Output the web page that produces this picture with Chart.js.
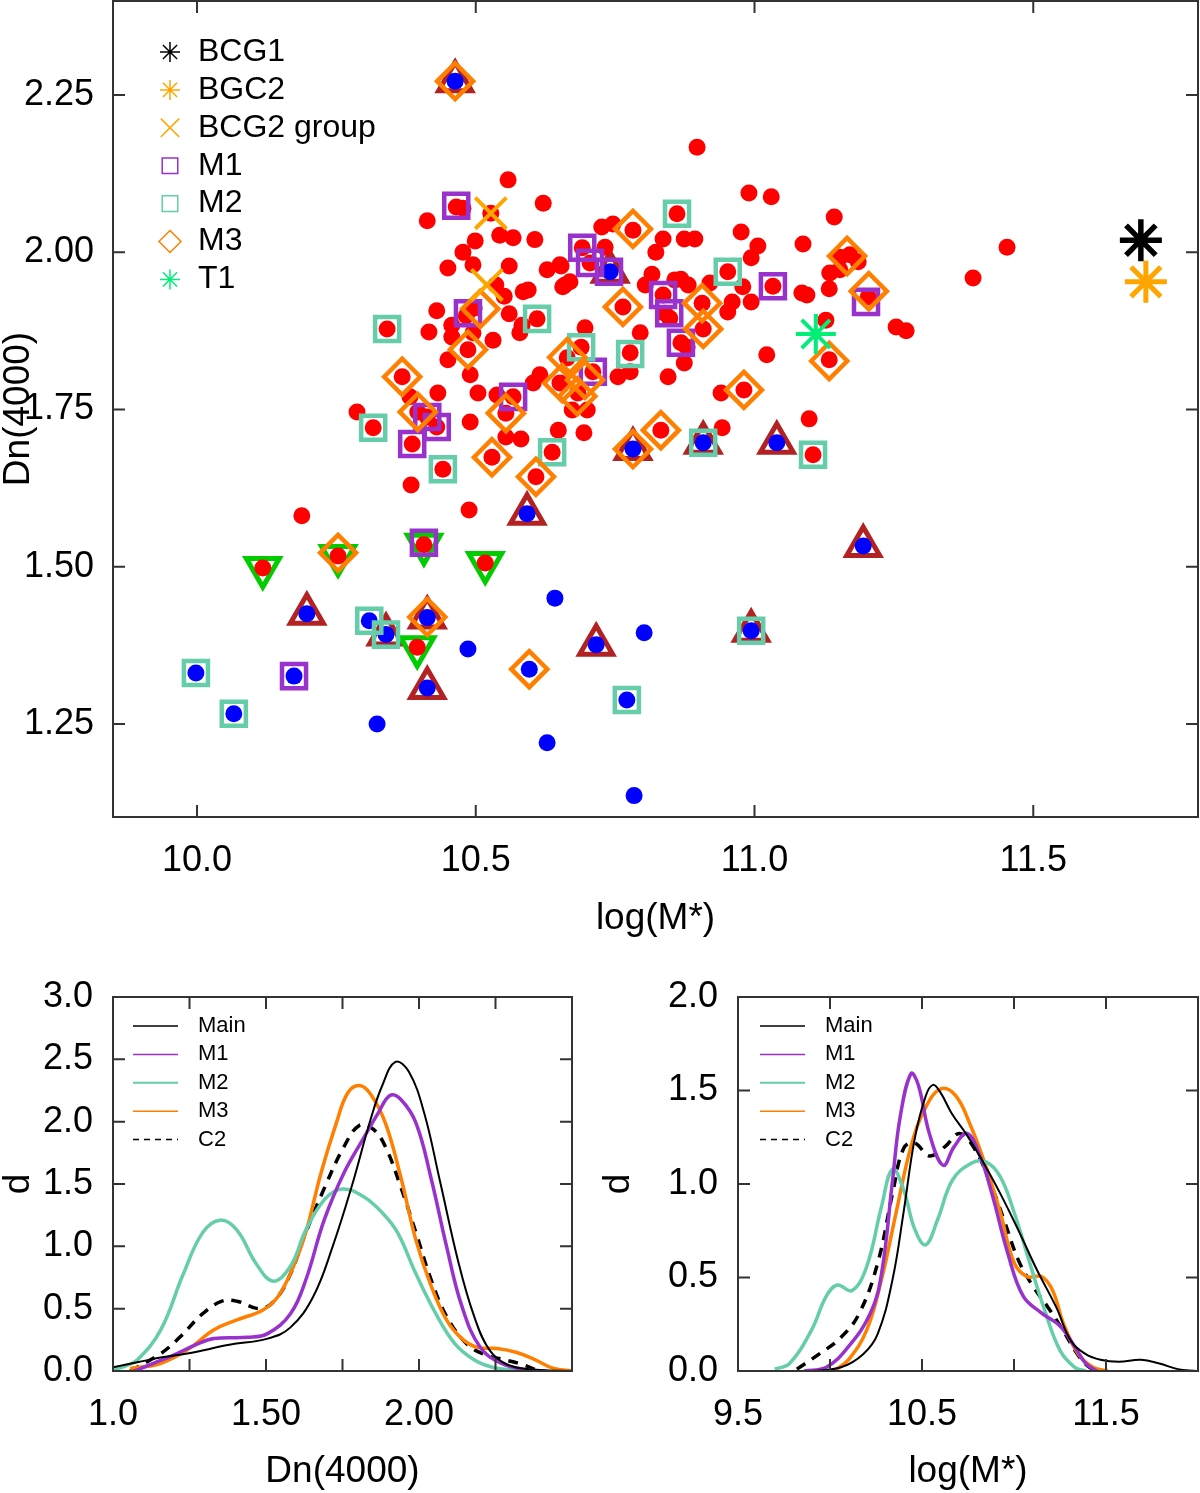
<!DOCTYPE html>
<html>
<head>
<meta charset="utf-8">
<script src="https://cdn.jsdelivr.net/npm/chart.js@4.4.0/dist/chart.umd.min.js"></script>
<style>
  body { margin: 0; background: #fff; width: 1200px; height: 1493px; position: relative; overflow: hidden; }
  .panel { position: absolute; }
</style>
</head>
<body>
<div class="panel" style="left:0;top:0;width:1200px;height:940px"><canvas id="scatter"></canvas></div>
<div class="panel" style="left:0;top:960px;width:600px;height:533px"><canvas id="dnDens"></canvas></div>
<div class="panel" style="left:600px;top:960px;width:600px;height:533px"><canvas id="massDens"></canvas></div>
<script>
/* --- Data: top scatter, [log(M*), Dn(4000)] ------------------------------ */
const redDots = [
  [10.465,2.072],[10.477,2.070],[10.413,2.050],[10.527,2.062],[10.558,2.115],[10.543,2.027],[10.499,2.018],
  [10.477,2.000],[10.450,1.975],[10.495,1.980],[10.536,1.948],[10.567,2.023],[10.621,2.078],[10.606,2.020],
  [10.560,1.978],[10.551,1.930],[10.585,1.937],[10.594,1.940],[10.628,1.972],[10.653,1.978],[10.660,1.948],
  [10.669,1.953],[10.726,2.040],[10.746,2.045],[10.691,2.007],[10.705,1.983],[10.732,2.008],[10.782,2.035],
  [10.764,1.913],[10.795,1.872],[10.430,1.907],[10.416,1.873],[10.457,1.884],[10.483,1.899],[10.497,1.911],
  [10.560,1.902],[10.610,1.894],[10.583,1.884],[10.579,1.872],[10.341,1.878],[10.457,1.865],[10.495,1.872],
  [10.531,1.860],[10.486,1.845],[10.450,1.829],[10.777,1.840],[10.696,1.880],[10.897,2.167],[10.990,2.094],
  [11.030,2.088],[11.143,2.056],[10.861,2.061],[10.836,2.021],[10.874,2.021],[10.893,2.021],[10.823,2.000],
  [10.976,2.032],[11.006,2.010],[10.994,1.991],[11.087,2.013],[11.153,1.992],[11.171,1.996],[11.186,1.985],
  [11.135,1.967],[11.153,1.972],[11.134,1.942],[10.651,1.980],[10.656,1.945],[10.816,1.965],[10.804,1.948],
  [10.857,1.956],[10.868,1.957],[10.881,1.948],[10.952,1.969],[10.979,1.945],[10.994,1.921],[10.920,1.951],
  [11.033,1.946],[11.085,1.935],[11.094,1.932],[10.836,1.932],[10.839,1.903],[10.848,1.895],[10.906,1.919],
  [10.960,1.921],[10.952,1.905],[10.908,1.878],[10.868,1.856],[10.879,1.849],[11.022,1.837],[11.128,1.892],
  [11.134,1.829],[11.204,1.929],[11.254,1.881],[11.272,1.875],[11.392,1.959],[11.453,2.008],[10.490,1.805],
  [10.603,1.792],[10.615,1.805],[10.651,1.792],[10.683,1.776],[10.673,1.749],[10.700,1.749],[10.755,1.802],
  [10.777,1.810],[10.368,1.802],[10.432,1.776],[10.382,1.770],[10.504,1.776],[10.538,1.773],[10.567,1.770],
  [10.554,1.744],[10.396,1.746],[10.413,1.738],[10.430,1.722],[10.287,1.746],[10.316,1.721],[10.386,1.695],
  [10.490,1.730],[10.554,1.706],[10.581,1.703],[10.529,1.674],[10.637,1.682],[10.648,1.717],[10.694,1.713],
  [10.441,1.655],[10.608,1.643],[10.384,1.630],[10.488,1.590],[10.188,1.581],[10.407,1.535],[10.253,1.517],
  [10.517,1.506],[10.118,1.498],[10.395,1.372],[10.981,1.781],[10.940,1.776],[10.845,1.802],[10.874,1.824],
  [10.832,1.717],[10.942,1.721],[11.098,1.735],[11.105,1.678],[10.664,1.832],[10.710,1.810],[10.689,1.849]
];
const blueDots = [
  [10.463,2.272],[10.741,1.969],[10.782,1.687],[10.908,1.697],[11.040,1.697],[10.592,1.584],[11.195,1.533],
  [10.197,1.425],[10.309,1.414],[10.339,1.392],[10.413,1.419],[10.486,1.369],[9.998,1.331],[10.174,1.326],
  [10.413,1.307],[10.596,1.337],[10.066,1.266],[10.323,1.250],[10.642,1.450],[10.628,1.220],[10.716,1.376],
  [10.802,1.395],[10.994,1.398],[10.771,1.288],[10.784,1.136]
];
const upTriangles = [
  [10.463,2.272],[10.741,1.969],[10.782,1.687],[10.908,1.697],[11.040,1.697],[10.592,1.584],[11.195,1.533],
  [10.197,1.425],[10.339,1.392],[10.413,1.419],[10.413,1.307],[10.716,1.376],[10.994,1.398]
];
const downTriangles = [[10.118,1.498],[10.253,1.517],[10.407,1.535],[10.517,1.506],[10.395,1.372]];
const m1Members = [
  [10.465,2.074],[10.486,1.903],[10.691,2.007],[10.705,1.983],[10.739,1.969],[10.567,1.770],[10.413,1.738],
  [10.430,1.722],[10.386,1.695],[10.407,1.538],[10.174,1.326],[10.710,1.810],[10.836,1.932],[10.847,1.903],
  [10.868,1.856],[11.033,1.946],[11.200,1.921]
];
const m2Members = [
  [10.341,1.878],[10.610,1.894],[10.689,1.849],[10.777,1.838],[10.861,2.061],[10.952,1.969],[10.316,1.721],
  [10.637,1.682],[10.441,1.655],[10.908,1.697],[11.105,1.678],[10.309,1.414],[10.339,1.392],[9.998,1.331],
  [10.066,1.266],[10.994,1.398],[10.771,1.288]
];
const m3Members = [
  [10.463,2.272],[10.782,2.037],[10.764,1.913],[10.508,1.910],[10.486,1.845],[10.664,1.833],[10.655,1.792],
  [10.696,1.797],[10.682,1.771],[10.368,1.802],[10.554,1.744],[10.396,1.746],[10.529,1.674],[10.608,1.643],
  [10.782,1.687],[10.832,1.717],[10.981,1.781],[10.906,1.919],[10.908,1.878],[11.134,1.827],[11.166,1.994],
  [11.205,1.938],[10.253,1.522],[10.413,1.420],[10.596,1.337]
];
const bcg2Group = [[10.527,2.062],[10.520,1.948]];
const bcg1 = [[11.693,2.019]];
const bgc2 = [[11.702,1.953]];
const t1 = [[11.110,1.870]];

const scatterXTicks = [10.0, 10.5, 11.0, 11.5];
const scatterYTicks = [1.25, 1.50, 1.75, 2.00, 2.25];

/* --- Data: density of Dn(4000), [Dn(4000), d] ---------------------------- */
const dnMain = [[1.0,0.03],[1.08,0.07],[1.16,0.11],[1.243,0.14],[1.38,0.21],[1.505,0.26],[1.58,0.35],[1.655,0.6],
  [1.718,1.0],[1.78,1.48],[1.842,2.02],[1.88,2.29],[1.923,2.48],[1.967,2.40],[2.017,2.07],[2.067,1.54],[2.13,0.86],
  [2.18,0.44],[2.23,0.17],[2.29,0.05],[2.38,0.01],[2.5,0]];
const dnM1 = [[1.07,0],[1.13,0.06],[1.2,0.13],[1.27,0.21],[1.33,0.26],[1.44,0.27],[1.505,0.30],[1.58,0.46],[1.63,0.73],
  [1.69,1.21],[1.755,1.59],[1.817,1.86],[1.867,2.07],[1.905,2.21],[1.94,2.18],[1.99,1.99],[2.04,1.54],[2.09,1.0],
  [2.14,0.52],[2.2,0.19],[2.27,0.06],[2.35,0.01],[2.42,0]];
const dnM2 = [[1.0,0.01],[1.04,0.04],[1.08,0.09],[1.156,0.33],[1.23,0.78],[1.293,1.11],[1.35,1.21],[1.405,1.13],
  [1.468,0.86],[1.524,0.72],[1.58,0.84],[1.63,1.13],[1.693,1.38],[1.749,1.46],[1.818,1.40],[1.88,1.27],[1.93,1.11],
  [1.99,0.78],[2.055,0.46],[2.117,0.22],[2.18,0.09],[2.24,0.03],[2.32,0.005],[2.36,0]];
const dnM3 = [[1.056,0.02],[1.155,0.06],[1.243,0.17],[1.33,0.33],[1.405,0.41],[1.49,0.49],[1.54,0.6],[1.59,0.84],
  [1.63,1.11],[1.68,1.59],[1.73,1.99],[1.767,2.23],[1.805,2.29],[1.842,2.22],[1.89,1.99],[1.94,1.56],[1.99,1.05],
  [2.04,0.68],[2.09,0.41],[2.14,0.26],[2.19,0.19],[2.255,0.18],[2.317,0.15],[2.38,0.09],[2.44,0.02],[2.5,0]];
const dnC2 = [[1.056,0],[1.156,0.14],[1.218,0.27],[1.293,0.46],[1.356,0.56],[1.405,0.56],[1.48,0.5],[1.53,0.57],
  [1.58,0.78],[1.63,1.11],[1.693,1.48],[1.755,1.80],[1.805,1.97],[1.85,1.94],[1.89,1.80],[1.94,1.48],[1.99,1.11],
  [2.04,0.73],[2.09,0.44],[2.155,0.22],[2.216,0.13],[2.28,0.09],[2.34,0.05],[2.39,0]];
const dnXTicks = [1.0, 1.25, 1.5, 1.75, 2.0, 2.25, 2.5];
const dnXLabels = { '1': '1.0', '1.5': '1.50', '2': '2.00' };
const dnYTicks = [0, 0.5, 1.0, 1.5, 2.0, 2.5, 3.0];

/* --- Data: density of log(M*), [log(M*), d] ------------------------------ */
const massMain = [[9.90,0],[10.06,0.02],[10.18,0.09],[10.26,0.2],[10.34,0.49],[10.40,0.85],[10.46,1.24],[10.52,1.47],
  [10.56,1.53],[10.60,1.49],[10.66,1.38],[10.745,1.26],[10.825,1.13],[10.925,0.95],[11.03,0.74],[11.125,0.54],
  [11.23,0.34],[11.31,0.16],[11.39,0.09],[11.47,0.06],[11.57,0.05],[11.69,0.06],[11.79,0.04],[11.89,0.01],[11.99,0]];
const massM1 = [[9.86,0],[9.98,0.02],[10.1,0.13],[10.22,0.31],[10.28,0.52],[10.34,1.02],[10.38,1.35],[10.44,1.59],
  [10.48,1.53],[10.54,1.27],[10.615,1.10],[10.675,1.20],[10.745,1.27],[10.815,1.15],[10.885,0.93],[10.966,0.63],
  [11.05,0.40],[11.15,0.31],[11.25,0.24],[11.33,0.13],[11.39,0.04],[11.45,0]];
const massM2 = [[9.70,0.01],[9.78,0.04],[9.90,0.22],[9.98,0.40],[10.04,0.46],[10.12,0.43],[10.2,0.56],[10.28,0.88],
  [10.34,1.08],[10.40,0.97],[10.46,0.76],[10.52,0.675],[10.585,0.81],[10.665,1.02],[10.765,1.11],[10.845,1.12],
  [10.925,1.04],[11.0,0.85],[11.085,0.58],[11.165,0.33],[11.25,0.11],[11.33,0.02],[11.39,0]];
const massM3 = [[10.02,0],[10.1,0.06],[10.2,0.22],[10.28,0.49],[10.36,0.85],[10.44,1.20],[10.52,1.41],[10.605,1.51],
  [10.685,1.47],[10.765,1.31],[10.845,1.10],[10.925,0.85],[11.0,0.58],[11.07,0.505],[11.15,0.505],[11.21,0.43],
  [11.27,0.25],[11.35,0.09],[11.43,0.02],[11.51,0]];
const massC2 = [[9.82,0.01],[9.94,0.09],[10.06,0.18],[10.16,0.31],[10.26,0.58],[10.34,0.95],[10.40,1.19],[10.46,1.22],
  [10.54,1.15],[10.625,1.20],[10.705,1.27],[10.785,1.19],[10.865,1.02],[10.945,0.81],[11.025,0.59],[11.105,0.45],
  [11.185,0.34],[11.265,0.22],[11.345,0.09],[11.41,0.02],[11.47,0]];
const massXTicks = [9.5, 10.0, 10.5, 11.0, 11.5, 12.0];
const massXLabels = { '9.5': '9.5', '10.5': '10.5', '11.5': '11.5' };
const massYTicks = [0, 0.5, 1.0, 1.5, 2.0];

const densLabels = ['Main', 'M1', 'M2', 'M3', 'C2'];

/* --- Styling ------------------------------------------------------------- */
const FONT = '"Liberation Sans", Arial, sans-serif';
const PURPLE = '#9932CC', TEAL = '#66CDAA', DORANGE = '#FF7F00', ORANGE = '#FFA500';
const FIREBRICK = '#B22222', GREEN = '#00CC00', SPRING = '#00EE76';
Chart.defaults.font.family = FONT;
Chart.defaults.color = '#000';
// big markers must not shrink the plot box
Chart.controllers.scatter.prototype.getMaxOverflow = () => 0;

const xy = arr => arr.map(([x, y]) => ({ x, y }));

/* --- Plugins: boxed frame with inward ticks, inset legend ---------------- */
const frame = {
  id: 'frame',
  afterDatasetsDraw(chart) {
    const { ctx, chartArea: a, scales: { x, y } } = chart;
    const len = 12;
    ctx.save();
    ctx.strokeStyle = '#333';
    ctx.lineWidth = 2;
    ctx.strokeRect(a.left, a.top, a.right - a.left, a.bottom - a.top);
    ctx.beginPath();
    x.ticks.forEach(t => {
      const p = x.getPixelForValue(t.value);
      ctx.moveTo(p, a.bottom); ctx.lineTo(p, a.bottom - len);
      ctx.moveTo(p, a.top);    ctx.lineTo(p, a.top + len);
    });
    y.ticks.forEach(t => {
      const p = y.getPixelForValue(t.value);
      ctx.moveTo(a.left, p);  ctx.lineTo(a.left + len, p);
      ctx.moveTo(a.right, p); ctx.lineTo(a.right - len, p);
    });
    ctx.stroke();
    ctx.restore();
  }
};

const insetLegend = {
  id: 'insetLegend',
  afterDraw(chart, args, o) {
    if (!o.items) return;
    const ctx = chart.ctx;
    ctx.save();
    ctx.font = o.font;
    ctx.textBaseline = 'middle';
    o.items.forEach((it, i) => {
      const y = o.y + i * o.gap;
      ctx.strokeStyle = it.color;
      ctx.lineWidth = it.width;
      ctx.fillStyle = 'rgba(0,0,0,0)';
      if (it.dash !== undefined) {
        ctx.setLineDash(it.dash);
        ctx.beginPath(); ctx.moveTo(o.x, y); ctx.lineTo(o.x + o.lineLen, y); ctx.stroke();
        ctx.setLineDash([]);
      } else {
        Chart.helpers.drawPoint(ctx, { pointStyle: it.style, radius: it.radius, rotation: 0, borderWidth: it.width }, o.x, y);
      }
      ctx.fillStyle = '#000';
      ctx.fillText(it.label, o.textX, y);
    });
    ctx.restore();
  }
};

function axis(min, max, ticks, fmt, size, title, pad) {
  return {
    type: 'linear', min, max,
    grid: { display: false }, border: { display: false },
    afterBuildTicks: s => { s.ticks = ticks.map(v => ({ value: v })); },
    afterFit: s => {
      if (s.isHorizontal()) s.height = size; else s.width = size;
      // keep the plot box where the reference has it
      s.paddingLeft = s.paddingRight = s.paddingTop = s.paddingBottom = 0;
    },
    ticks: { font: { size: 36 }, padding: pad, callback: fmt, autoSkip: false, maxRotation: 0 },
    title: { display: true, text: title, font: { size: 37, lineHeight: 1 }, padding: { top: 0, bottom: 3 } }
  };
}

/* --- Top scatter --------------------------------------------------------- */
// listed bottom layer first
const layers = [
  { data: upTriangles,   style: 'triangle', color: FIREBRICK, r: 19, w: 5 },
  { data: downTriangles, style: 'triangle', color: GREEN,     r: 19, w: 5, rot: 180 },
  { data: redDots,       style: 'circle',   fill: '#FF0000',  r: 8.5 },
  { data: blueDots,      style: 'circle',   fill: '#0000FF',  r: 8.5 },
  { data: m1Members,     style: 'rect',     color: PURPLE,    r: 17, w: 4.5 },
  { data: m2Members,     style: 'rect',     color: TEAL,      r: 17, w: 4.5 },
  { data: m3Members,     style: 'rectRot',  color: DORANGE,   r: 18, w: 4.5 },
  { data: bcg2Group,     style: 'crossRot', color: ORANGE,    r: 22, w: 4 },
  { data: t1,            style: 'star',     color: SPRING,    r: 20, w: 4 },
  { data: bgc2,          style: 'star',     color: ORANGE,    r: 21, w: 5 },
  { data: bcg1,          style: 'star',     color: '#000',    r: 21, w: 5.5 }
];

new Chart(document.getElementById('scatter'), {
  type: 'scatter',
  data: {
    datasets: layers.map((l, i) => ({
      data: xy(l.data),
      order: layers.length - i,
      pointStyle: l.style,
      pointRadius: l.r,
      pointRotation: l.rot || 0,
      pointBackgroundColor: l.fill || 'rgba(0,0,0,0)',
      pointBorderColor: l.fill || l.color,
      pointBorderWidth: l.fill ? 0 : l.w
    }))
  },
  options: {
    responsive: true, maintainAspectRatio: false, animation: false,
    layout: { padding: { top: 1, right: 2, left: 0, bottom: 0 } },
    plugins: {
      legend: { display: false }, tooltip: { enabled: false },
      insetLegend: {
        x: 170, textX: 198, y: 52, gap: 37.9, font: '32px ' + FONT,
        items: [
          { label: 'BCG1',       style: 'star',     color: '#000',  radius: 10, width: 1.5 },
          { label: 'BGC2',       style: 'star',     color: ORANGE,  radius: 10, width: 1.5 },
          { label: 'BCG2 group', style: 'crossRot', color: ORANGE,  radius: 13, width: 1.5 },
          { label: 'M1',         style: 'rect',     color: PURPLE,  radius: 11, width: 1.5 },
          { label: 'M2',         style: 'rect',     color: TEAL,    radius: 11, width: 1.5 },
          { label: 'M3',         style: 'rectRot',  color: DORANGE, radius: 11, width: 1.5 },
          { label: 'T1',         style: 'star',     color: SPRING,  radius: 10, width: 1.5 }
        ]
      }
    },
    scales: {
      x: axis(9.8493, 11.7955, scatterXTicks, v => v.toFixed(1), 123, 'log(M*)', 14),
      y: axis(1.1020, 2.3994, scatterYTicks, v => v.toFixed(2), 113, 'Dn(4000)', 11)
    }
  },
  plugins: [frame, insetLegend]
});

/* --- Density panels ------------------------------------------------------ */
function densityChart(id, series, xr, xTicks, xLabels, yr, yTicks, yWidth, padRight, xTitle, legendX) {
  const look = [
    { color: '#000',  width: 2 },
    { color: PURPLE,  width: 3.5 },
    { color: TEAL,    width: 3.5 },
    { color: DORANGE, width: 3.5 },
    { color: '#000',  width: 3.5, dash: [10, 8] }
  ];
  new Chart(document.getElementById(id), {
    type: 'scatter',
    data: {
      datasets: series.map((s, i) => ({
        label: densLabels[i], data: xy(s), showLine: true, pointRadius: 0, tension: 0.4,
        borderColor: look[i].color, borderWidth: look[i].width, borderDash: look[i].dash || [],
        order: i === 0 ? 0 : i
      }))
    },
    options: {
      responsive: true, maintainAspectRatio: false, animation: false,
      layout: { padding: { top: 37, right: padRight, left: 0, bottom: 0 } },
      plugins: {
        legend: { display: false }, tooltip: { enabled: false },
        insetLegend: {
          x: legendX, lineLen: 45, textX: legendX + 65, y: 66, gap: 28.4, font: '22px ' + FONT,
          items: densLabels.map((lab, i) => ({
            label: lab, color: look[i].color, width: i === 2 ? 2 : 1.5, dash: i === 4 ? [6, 5] : []
          }))
        }
      },
      scales: {
        x: axis(xr[0], xr[1], xTicks, v => xLabels[String(v)] || '', 122, xTitle, 14),
        y: axis(yr[0], yr[1], yTicks, v => v.toFixed(1), yWidth, 'd', 12)
      }
    },
    plugins: [frame, insetLegend]
  });
}

densityChart('dnDens', [dnMain, dnM1, dnM2, dnM3, dnC2], [1.0, 2.5], dnXTicks, dnXLabels,
  [0, 3.0], dnYTicks, 113, 28, 'Dn(4000)', 133);
densityChart('massDens', [massMain, massM1, massM2, massM3, massC2], [9.5, 12.0], massXTicks, massXLabels,
  [0, 2.0], massYTicks, 138, 2, 'log(M*)', 160);
</script>
</body>
</html>
